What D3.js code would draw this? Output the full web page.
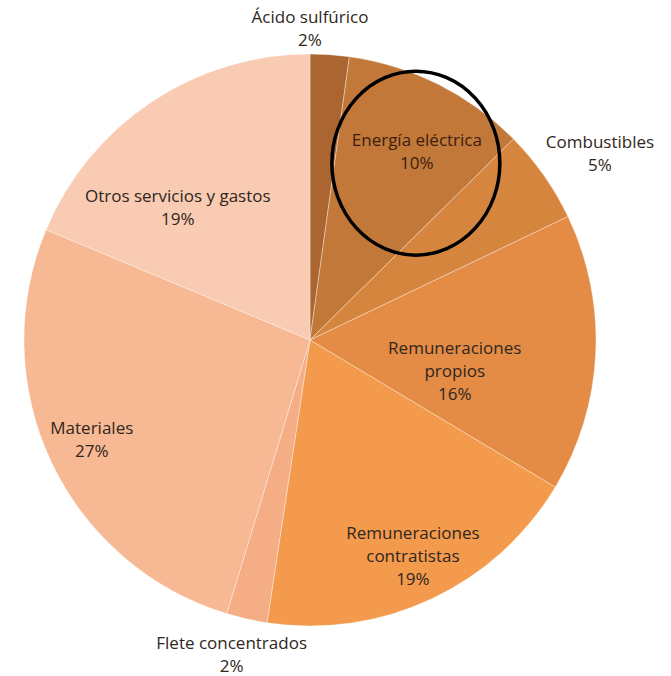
<!DOCTYPE html>
<html>
<head>
<meta charset="utf-8">
<script src="https://cdn.jsdelivr.net/npm/d3@7"></script>
<style>
  body { margin: 0; background: #fff; }
  #chart { width: 671px; height: 676px; }
  text { font-family: "Open Sans", Lato, sans-serif; }
</style>
</head>
<body>
<div id="chart"></div>
<script>
// Cost structure, shares (percent)
const categories = [
    'Ácido sulfúrico',
    'Energía eléctrica',
    'Combustibles',
    'Remuneraciones propios',
    'Remuneraciones contratistas',
    'Flete concentrados',
    'Materiales',
    'Otros servicios y gastos'
];
const shares = [2.2, 10.4, 5.3, 15.7, 18.8, 2.3, 26.6, 18.7];
const labelLines = [
    ['Ácido sulfúrico'],
    ['Energía eléctrica'],
    ['Combustibles'],
    ['Remuneraciones', 'propios'],
    ['Remuneraciones', 'contratistas'],
    ['Flete concentrados'],
    ['Materiales'],
    ['Otros servicios y gastos']
];
const highlighted = 'Energía eléctrica';

const colors = ['#ab6530', '#c27838', '#d6853f', '#e48c45', '#f39a4c', '#f4ad84', '#f7b994', '#f8cbb2'];
// label anchor: [radius, angle in degrees from 12 o'clock]
const labelPolar = [[311, 0], [217, 29.5], [345, 57.2], [148, 102], [239, 154.5], [324, 194], [240, 245.4], [187, 315]];

const width = 671, height = 676;
const cx = 310, cy = 340, radius = 286;

const svg = d3.select('#chart').append('svg')
    .attr('width', width)
    .attr('height', height);

const g = svg.append('g').attr('transform', `translate(${cx},${cy})`);

const data = categories.map((c, i) => ({ name: c, value: shares[i], i }));

const pie = d3.pie().value(d => d.value).sort(null);
const arc = d3.arc().innerRadius(0).outerRadius(radius);
const arcs = pie(data);

g.selectAll('path.slice')
    .data(arcs)
    .enter()
    .append('path')
    .attr('class', 'slice')
    .attr('d', arc)
    .attr('fill', d => colors[d.data.i])
    .attr('stroke', 'rgba(255,255,255,0.35)')
    .attr('stroke-width', 1);

// Labels
const fmt = v => Math.round(v) + '%';
const lineH = 23;

arcs.forEach(d => {
    const [r, deg] = labelPolar[d.data.i];
    const a = deg * Math.PI / 180;
    const x = r * Math.sin(a), y = -r * Math.cos(a);
    const lines = labelLines[d.data.i].concat([fmt(d.data.value)]);
    const y0 = y - (lines.length - 1) * lineH / 2;
    const t = g.append('text')
        .attr('text-anchor', 'middle')
        .style('font-size', '17px')
        .style('fill', d.data.name === highlighted ? '#3a1e10' : '#2f2620');
    lines.forEach((ln, k) => {
        t.append('tspan')
            .attr('x', x)
            .attr('y', y0 + k * lineH)
            .attr('dy', '0.35em')
            .text(ln);
    });
});

// Annotation circle around the highlighted slice label
const hi = labelPolar[categories.indexOf(highlighted)];
const ha = hi[1] * Math.PI / 180;
g.append('ellipse')
    .attr('cx', hi[0] * Math.sin(ha) - 1)
    .attr('cy', -hi[0] * Math.cos(ha) + 12)
    .attr('rx', 84)
    .attr('ry', 92)
    .attr('fill', 'none')
    .attr('stroke', '#000')
    .attr('stroke-width', 3.5);
</script>
</body>
</html>
